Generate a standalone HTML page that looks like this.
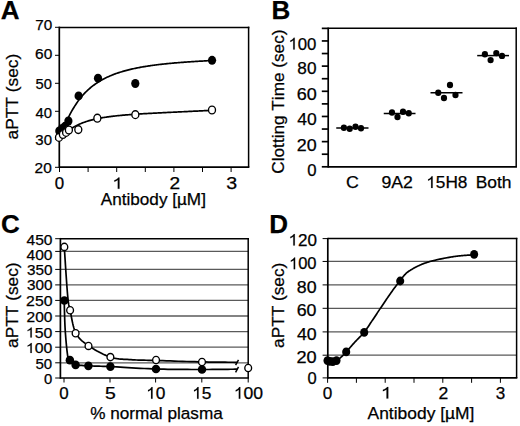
<!DOCTYPE html>
<html><head><meta charset="utf-8"><style>
html,body{margin:0;padding:0;background:#fff;}
body{width:520px;height:426px;overflow:hidden;}
svg{display:block;font-family:"Liberation Sans", sans-serif;font-kerning:none;}
text{stroke:#000;stroke-width:0.25px;}
</style></head><body>
<svg width="520" height="426" viewBox="0 0 520 426">
<rect width="520" height="426" fill="#fff"/>
<text x="0.85" y="19.4" font-size="26" font-weight="bold" textLength="18.78" lengthAdjust="spacingAndGlyphs" fill="#000">A</text>
<line x1="55" y1="27.3" x2="59.3" y2="27.3" stroke="#000" stroke-width="1" stroke-linecap="butt"/>
<line x1="55" y1="55.3" x2="59.3" y2="55.3" stroke="#000" stroke-width="1" stroke-linecap="butt"/>
<line x1="55" y1="83.3" x2="59.3" y2="83.3" stroke="#000" stroke-width="1" stroke-linecap="butt"/>
<line x1="55" y1="111.3" x2="59.3" y2="111.3" stroke="#000" stroke-width="1" stroke-linecap="butt"/>
<line x1="55" y1="139.3" x2="59.3" y2="139.3" stroke="#000" stroke-width="1" stroke-linecap="butt"/>
<line x1="55" y1="167.3" x2="59.3" y2="167.3" stroke="#000" stroke-width="1" stroke-linecap="butt"/>
<text x="35.32" y="30.4" font-size="14.9" textLength="16.98" lengthAdjust="spacingAndGlyphs" fill="#000">70</text>
<text x="35.12" y="59.1" font-size="14.9" textLength="17.19" lengthAdjust="spacingAndGlyphs" fill="#000">60</text>
<text x="35.61" y="88.9" font-size="14.9" textLength="16.36" lengthAdjust="spacingAndGlyphs" fill="#000">50</text>
<text x="35.46" y="117.8" font-size="14.9" textLength="16.52" lengthAdjust="spacingAndGlyphs" fill="#000">40</text>
<text x="35.33" y="145.2" font-size="14.9" textLength="16.66" lengthAdjust="spacingAndGlyphs" fill="#000">30</text>
<text x="34.62" y="173.1" font-size="14.9" textLength="17.18" lengthAdjust="spacingAndGlyphs" fill="#000">20</text>
<line x1="59.5" y1="167.2" x2="59.5" y2="172" stroke="#000" stroke-width="1" stroke-linecap="butt"/>
<line x1="88.1" y1="167.2" x2="88.1" y2="172" stroke="#000" stroke-width="1" stroke-linecap="butt"/>
<line x1="116.7" y1="167.2" x2="116.7" y2="172" stroke="#000" stroke-width="1" stroke-linecap="butt"/>
<line x1="145.3" y1="167.2" x2="145.3" y2="172" stroke="#000" stroke-width="1" stroke-linecap="butt"/>
<line x1="173.9" y1="167.2" x2="173.9" y2="172" stroke="#000" stroke-width="1" stroke-linecap="butt"/>
<line x1="202.5" y1="167.2" x2="202.5" y2="172" stroke="#000" stroke-width="1" stroke-linecap="butt"/>
<line x1="231.1" y1="167.2" x2="231.1" y2="172" stroke="#000" stroke-width="1" stroke-linecap="butt"/>
<text x="54.74" y="188.8" font-size="15.7" textLength="9.42" lengthAdjust="spacingAndGlyphs" fill="#000">0</text>
<text x="112.15" y="188.8" font-size="15.7" textLength="10.97" lengthAdjust="spacingAndGlyphs" fill="#000"> </text>
<path transform="translate(112.15,188.8) scale(0.00963,-0.00767)" d="M763,0H583V1147Q518,1085 412.5,1023T223,930V1104Q374,1175 487,1276T647,1472H763Z" fill="#000" stroke="#000" stroke-width="15.7"/>
<text x="169.54" y="188.8" font-size="15.7" textLength="10.62" lengthAdjust="spacingAndGlyphs" fill="#000">2</text>
<text x="226.15" y="188.8" font-size="15.7" textLength="10.91" lengthAdjust="spacingAndGlyphs" fill="#000">3</text>
<text x="100.77" y="205.3" font-size="16.8" textLength="105.16" lengthAdjust="spacingAndGlyphs" fill="#000">Antibody [µM]</text>
<text transform="translate(18.2,96.8) rotate(-90)" x="-42.64" y="0" font-size="17.2" textLength="85.61" lengthAdjust="spacingAndGlyphs" fill="#000">aPTT (sec)</text>
<line x1="59.3" y1="27.4" x2="249.35" y2="27.4" stroke="#000" stroke-width="1.5" stroke-linecap="butt"/>
<line x1="248.6" y1="26.65" x2="248.6" y2="167.2" stroke="#000" stroke-width="1.5" stroke-linecap="butt"/>
<line x1="59.3" y1="26.65" x2="59.3" y2="168.05" stroke="#000" stroke-width="1.7" stroke-linecap="butt"/>
<line x1="59.3" y1="167.2" x2="249.35" y2="167.2" stroke="#000" stroke-width="1.7" stroke-linecap="butt"/>
<path d="M59.5,130.37 L60.46,129.85 L61.42,129.47 L62.38,128.53 L63.34,127.14 L64.3,125.47 L65.25,123.65 L66.21,121.75 L67.17,119.83 L68.13,117.92 L69.09,116.04 L70.05,114.2 L71.01,112.42 L71.97,110.7 L72.93,109.04 L73.89,107.44 L74.85,105.9 L75.81,104.42 L76.76,103 L77.72,101.63 L78.68,100.32 L79.64,99.06 L80.6,97.85 L81.56,96.68 L82.52,95.56 L83.48,94.48 L84.44,93.45 L85.4,92.45 L86.36,91.49 L87.31,90.57 L88.27,89.68 L89.23,88.82 L90.19,87.99 L91.15,87.19 L92.11,86.43 L93.07,85.68 L94.03,84.97 L94.99,84.27 L95.95,83.6 L96.91,82.96 L97.86,82.33 L98.82,81.73 L99.78,81.14 L100.74,80.58 L101.7,80.03 L102.66,79.5 L103.62,78.99 L104.58,78.49 L105.54,78.01 L106.5,77.54 L107.46,77.09 L108.42,76.65 L109.37,76.22 L110.33,75.81 L111.29,75.41 L112.25,75.02 L113.21,74.64 L114.17,74.28 L115.13,73.92 L116.09,73.57 L117.05,73.24 L118.01,72.91 L118.97,72.59 L119.92,72.28 L120.88,71.98 L121.84,71.69 L122.8,71.4 L123.76,71.13 L124.72,70.86 L125.68,70.59 L126.64,70.34 L127.6,70.09 L128.56,69.85 L129.52,69.61 L130.47,69.38 L131.43,69.16 L132.39,68.94 L133.35,68.73 L134.31,68.52 L135.27,68.31 L136.23,68.12 L137.19,67.92 L138.15,67.74 L139.11,67.55 L140.07,67.37 L141.03,67.2 L141.98,67.03 L142.94,66.86 L143.9,66.7 L144.86,66.54 L145.82,66.38 L146.78,66.23 L147.74,66.08 L148.7,65.94 L149.66,65.79 L150.62,65.65 L151.58,65.52 L152.53,65.39 L153.49,65.25 L154.45,65.13 L155.41,65 L156.37,64.88 L157.33,64.76 L158.29,64.64 L159.25,64.53 L160.21,64.42 L161.17,64.31 L162.13,64.2 L163.08,64.09 L164.04,63.99 L165,63.89 L165.96,63.79 L166.92,63.69 L167.88,63.6 L168.84,63.5 L169.8,63.41 L170.76,63.32 L171.72,63.23 L172.68,63.14 L173.64,63.06 L174.59,62.97 L175.55,62.89 L176.51,62.81 L177.47,62.73 L178.43,62.65 L179.39,62.58 L180.35,62.5 L181.31,62.42 L182.27,62.35 L183.23,62.28 L184.19,62.21 L185.14,62.14 L186.1,62.07 L187.06,62 L188.02,61.93 L188.98,61.87 L189.94,61.8 L190.9,61.74 L191.86,61.68 L192.82,61.61 L193.78,61.55 L194.74,61.49 L195.69,61.43 L196.65,61.37 L197.61,61.31 L198.57,61.26 L199.53,61.2 L200.49,61.14 L201.45,61.09 L202.41,61.03 L203.37,60.98 L204.33,60.92 L205.29,60.87 L206.25,60.82 L207.2,60.77 L208.16,60.71 L209.12,60.66 L210.08,60.61 L211.04,60.56 L212,60.51" fill="none" stroke="#000" stroke-width="1.7" stroke-linejoin="round" stroke-linecap="round"/>
<path d="M59.5,136.89 L60.46,136.45 L61.42,135.86 L62.38,135.18 L63.34,134.46 L64.3,133.71 L65.25,132.96 L66.21,132.21 L67.17,131.48 L68.13,130.77 L69.09,130.08 L70.05,129.41 L71.01,128.77 L71.97,128.16 L72.93,127.57 L73.89,127 L74.85,126.46 L75.81,125.94 L76.76,125.45 L77.72,124.97 L78.68,124.52 L79.64,124.09 L80.6,123.67 L81.56,123.27 L82.52,122.9 L83.48,122.53 L84.44,122.18 L85.4,121.85 L86.36,121.53 L87.31,121.22 L88.27,120.93 L89.23,120.65 L90.19,120.38 L91.15,120.12 L92.11,119.87 L93.07,119.63 L94.03,119.4 L94.99,119.18 L95.95,118.97 L96.91,118.76 L97.86,118.56 L98.82,118.37 L99.78,118.19 L100.74,118.01 L101.7,117.84 L102.66,117.68 L103.62,117.52 L104.58,117.37 L105.54,117.22 L106.5,117.07 L107.46,116.94 L108.42,116.8 L109.37,116.67 L110.33,116.55 L111.29,116.42 L112.25,116.31 L113.21,116.19 L114.17,116.08 L115.13,115.97 L116.09,115.87 L117.05,115.77 L118.01,115.67 L118.97,115.57 L119.92,115.48 L120.88,115.39 L121.84,115.3 L122.8,115.21 L123.76,115.13 L124.72,115.04 L125.68,114.96 L126.64,114.88 L127.6,114.81 L128.56,114.73 L129.52,114.66 L130.47,114.59 L131.43,114.52 L132.39,114.45 L133.35,114.38 L134.31,114.31 L135.27,114.25 L136.23,114.18 L137.19,114.12 L138.15,114.06 L139.11,114 L140.07,113.94 L141.03,113.88 L141.98,113.82 L142.94,113.76 L143.9,113.71 L144.86,113.65 L145.82,113.59 L146.78,113.54 L147.74,113.49 L148.7,113.43 L149.66,113.38 L150.62,113.33 L151.58,113.28 L152.53,113.23 L153.49,113.18 L154.45,113.13 L155.41,113.08 L156.37,113.03 L157.33,112.98 L158.29,112.93 L159.25,112.88 L160.21,112.83 L161.17,112.79 L162.13,112.74 L163.08,112.69 L164.04,112.64 L165,112.6 L165.96,112.55 L166.92,112.5 L167.88,112.46 L168.84,112.41 L169.8,112.37 L170.76,112.32 L171.72,112.27 L172.68,112.23 L173.64,112.18 L174.59,112.14 L175.55,112.09 L176.51,112.05 L177.47,112 L178.43,111.96 L179.39,111.91 L180.35,111.86 L181.31,111.82 L182.27,111.77 L183.23,111.73 L184.19,111.68 L185.14,111.64 L186.1,111.59 L187.06,111.54 L188.02,111.5 L188.98,111.45 L189.94,111.41 L190.9,111.36 L191.86,111.31 L192.82,111.27 L193.78,111.22 L194.74,111.17 L195.69,111.13 L196.65,111.08 L197.61,111.03 L198.57,110.99 L199.53,110.94 L200.49,110.89 L201.45,110.84 L202.41,110.8 L203.37,110.75 L204.33,110.7 L205.29,110.65 L206.25,110.6 L207.2,110.56 L208.16,110.51 L209.12,110.46 L210.08,110.41 L211.04,110.36 L212,110.31" fill="none" stroke="#000" stroke-width="1.7" stroke-linejoin="round" stroke-linecap="round"/>
<ellipse cx="59.3" cy="131" rx="4.1" ry="4.45" fill="#000"/>
<ellipse cx="62.2" cy="128.5" rx="4.1" ry="4.45" fill="#000"/>
<ellipse cx="65" cy="126.3" rx="4.1" ry="4.45" fill="#000"/>
<ellipse cx="68.4" cy="121" rx="4.1" ry="4.45" fill="#000"/>
<ellipse cx="78.6" cy="95.9" rx="4.1" ry="4.45" fill="#000"/>
<ellipse cx="98" cy="78.2" rx="4.1" ry="4.45" fill="#000"/>
<ellipse cx="135.3" cy="83.5" rx="4.1" ry="4.45" fill="#000"/>
<ellipse cx="212.05" cy="60.3" rx="4.1" ry="4.45" fill="#000"/>
<ellipse cx="59" cy="137.4" rx="3.5" ry="3.9" fill="#fff" stroke="#000" stroke-width="1.35"/>
<ellipse cx="62.9" cy="134.5" rx="3.5" ry="3.9" fill="#fff" stroke="#000" stroke-width="1.35"/>
<ellipse cx="66.1" cy="132.4" rx="3.5" ry="3.9" fill="#fff" stroke="#000" stroke-width="1.35"/>
<ellipse cx="68.9" cy="130" rx="3.5" ry="3.9" fill="#fff" stroke="#000" stroke-width="1.35"/>
<ellipse cx="78.3" cy="129.6" rx="3.5" ry="3.9" fill="#fff" stroke="#000" stroke-width="1.35"/>
<ellipse cx="97.35" cy="118.2" rx="3.5" ry="3.9" fill="#fff" stroke="#000" stroke-width="1.35"/>
<ellipse cx="135.35" cy="114.65" rx="3.5" ry="3.9" fill="#fff" stroke="#000" stroke-width="1.35"/>
<ellipse cx="212" cy="110" rx="3.5" ry="3.9" fill="#fff" stroke="#000" stroke-width="1.35"/>
<text x="271.46" y="19.4" font-size="26" font-weight="bold" textLength="18.78" lengthAdjust="spacingAndGlyphs" fill="#000">B</text>
<line x1="321.8" y1="166.8" x2="328.2" y2="166.8" stroke="#000" stroke-width="1.7" stroke-linecap="butt"/>
<line x1="321.8" y1="154.22" x2="328.2" y2="154.22" stroke="#000" stroke-width="1.7" stroke-linecap="butt"/>
<line x1="321.8" y1="141.63" x2="328.2" y2="141.63" stroke="#000" stroke-width="1.7" stroke-linecap="butt"/>
<line x1="321.8" y1="129.05" x2="328.2" y2="129.05" stroke="#000" stroke-width="1.7" stroke-linecap="butt"/>
<line x1="321.8" y1="116.46" x2="328.2" y2="116.46" stroke="#000" stroke-width="1.7" stroke-linecap="butt"/>
<line x1="321.8" y1="103.88" x2="328.2" y2="103.88" stroke="#000" stroke-width="1.7" stroke-linecap="butt"/>
<line x1="321.8" y1="91.29" x2="328.2" y2="91.29" stroke="#000" stroke-width="1.7" stroke-linecap="butt"/>
<line x1="321.8" y1="78.71" x2="328.2" y2="78.71" stroke="#000" stroke-width="1.7" stroke-linecap="butt"/>
<line x1="321.8" y1="66.12" x2="328.2" y2="66.12" stroke="#000" stroke-width="1.7" stroke-linecap="butt"/>
<line x1="321.8" y1="53.54" x2="328.2" y2="53.54" stroke="#000" stroke-width="1.7" stroke-linecap="butt"/>
<line x1="321.8" y1="40.95" x2="328.2" y2="40.95" stroke="#000" stroke-width="1.7" stroke-linecap="butt"/>
<line x1="321.8" y1="28.37" x2="328.2" y2="28.37" stroke="#000" stroke-width="1.7" stroke-linecap="butt"/>
<text x="288.47" y="49.5" font-size="16.5" textLength="27.98" lengthAdjust="spacingAndGlyphs" fill="#000"> 00</text>
<path transform="translate(288.47,49.5) scale(0.00819,-0.00806)" d="M763,0H583V1147Q518,1085 412.5,1023T223,930V1104Q374,1175 487,1276T647,1472H763Z" fill="#000" stroke="#000" stroke-width="14.9"/>
<text x="297.35" y="74.4" font-size="16.5" textLength="19.12" lengthAdjust="spacingAndGlyphs" fill="#000">80</text>
<text x="296.69" y="100.4" font-size="16.5" textLength="20.02" lengthAdjust="spacingAndGlyphs" fill="#000">60</text>
<text x="297.2" y="125.3" font-size="16.5" textLength="19.49" lengthAdjust="spacingAndGlyphs" fill="#000">40</text>
<text x="296.8" y="150.6" font-size="16.5" textLength="19.9" lengthAdjust="spacingAndGlyphs" fill="#000">20</text>
<text x="307.35" y="175.8" font-size="16.5" textLength="9.31" lengthAdjust="spacingAndGlyphs" fill="#000">0</text>
<text transform="translate(284,101.7) rotate(-90)" x="-71.97" y="0" font-size="17.2" textLength="144.14" lengthAdjust="spacingAndGlyphs" fill="#000">Clotting Time (sec)</text>
<line x1="328.2" y1="28.3" x2="516.95" y2="28.3" stroke="#000" stroke-width="1.5" stroke-linecap="butt"/>
<line x1="516.2" y1="27.55" x2="516.2" y2="166.8" stroke="#000" stroke-width="1.5" stroke-linecap="butt"/>
<line x1="328.2" y1="27.55" x2="328.2" y2="167.65" stroke="#000" stroke-width="1.7" stroke-linecap="butt"/>
<line x1="328.2" y1="166.8" x2="516.95" y2="166.8" stroke="#000" stroke-width="1.7" stroke-linecap="butt"/>
<line x1="336.25" y1="128" x2="368.5" y2="128" stroke="#000" stroke-width="1.5" stroke-linecap="butt"/>
<ellipse cx="343.9" cy="127.8" rx="3.1" ry="3.2" fill="#000"/>
<ellipse cx="349.7" cy="128.75" rx="3.1" ry="3.2" fill="#000"/>
<ellipse cx="355.5" cy="126.8" rx="3.1" ry="3.2" fill="#000"/>
<ellipse cx="361" cy="128.3" rx="3.1" ry="3.2" fill="#000"/>
<line x1="383.75" y1="113.5" x2="415.5" y2="113.5" stroke="#000" stroke-width="1.5" stroke-linecap="butt"/>
<ellipse cx="392" cy="112.5" rx="3.1" ry="3.2" fill="#000"/>
<ellipse cx="397.5" cy="117" rx="3.1" ry="3.2" fill="#000"/>
<ellipse cx="403" cy="111.75" rx="3.1" ry="3.2" fill="#000"/>
<ellipse cx="408.75" cy="113.25" rx="3.1" ry="3.2" fill="#000"/>
<line x1="430.5" y1="92.75" x2="462.5" y2="92.75" stroke="#000" stroke-width="1.5" stroke-linecap="butt"/>
<ellipse cx="438.25" cy="92.75" rx="3.1" ry="3.2" fill="#000"/>
<ellipse cx="444" cy="98" rx="3.1" ry="3.2" fill="#000"/>
<ellipse cx="450" cy="85" rx="3.1" ry="3.2" fill="#000"/>
<ellipse cx="455.5" cy="95" rx="3.1" ry="3.2" fill="#000"/>
<line x1="477.2" y1="55.6" x2="509" y2="55.6" stroke="#000" stroke-width="1.5" stroke-linecap="butt"/>
<ellipse cx="484.9" cy="54.2" rx="3.1" ry="3.2" fill="#000"/>
<ellipse cx="490.6" cy="60.1" rx="3.1" ry="3.2" fill="#000"/>
<ellipse cx="496.3" cy="53.1" rx="3.1" ry="3.2" fill="#000"/>
<ellipse cx="502" cy="55.9" rx="3.1" ry="3.2" fill="#000"/>
<text x="345.99" y="188.1" font-size="16.4" textLength="12.89" lengthAdjust="spacingAndGlyphs" fill="#000">C</text>
<text x="381.47" y="188.1" font-size="16.4" textLength="31.42" lengthAdjust="spacingAndGlyphs" fill="#000">9A2</text>
<text x="426.22" y="188.1" font-size="16.4" textLength="41.23" lengthAdjust="spacingAndGlyphs" fill="#000"> 5H8</text>
<path transform="translate(426.22,188.1) scale(0.00842,-0.00801)" d="M763,0H583V1147Q518,1085 412.5,1023T223,930V1104Q374,1175 487,1276T647,1472H763Z" fill="#000" stroke="#000" stroke-width="15.0"/>
<text x="475.67" y="188.1" font-size="16.4" textLength="35.86" lengthAdjust="spacingAndGlyphs" fill="#000">Both</text>
<text x="1.03" y="233" font-size="26" font-weight="bold" textLength="18.78" lengthAdjust="spacingAndGlyphs" fill="#000">C</text>
<line x1="60.4" y1="251.4" x2="248.2" y2="251.4" stroke="#5a5a5a" stroke-width="1.3" stroke-linecap="butt"/>
<line x1="60.4" y1="269.4" x2="248.2" y2="269.4" stroke="#5a5a5a" stroke-width="1.3" stroke-linecap="butt"/>
<line x1="60.4" y1="284.9" x2="248.2" y2="284.9" stroke="#5a5a5a" stroke-width="1.3" stroke-linecap="butt"/>
<line x1="60.4" y1="300.4" x2="248.2" y2="300.4" stroke="#5a5a5a" stroke-width="1.3" stroke-linecap="butt"/>
<line x1="60.4" y1="316" x2="248.2" y2="316" stroke="#5a5a5a" stroke-width="1.3" stroke-linecap="butt"/>
<line x1="60.4" y1="331.6" x2="248.2" y2="331.6" stroke="#5a5a5a" stroke-width="1.3" stroke-linecap="butt"/>
<line x1="60.4" y1="347.2" x2="248.2" y2="347.2" stroke="#5a5a5a" stroke-width="1.3" stroke-linecap="butt"/>
<line x1="60.4" y1="362.8" x2="248.2" y2="362.8" stroke="#5a5a5a" stroke-width="1.3" stroke-linecap="butt"/>
<line x1="55.2" y1="251.4" x2="60.4" y2="251.4" stroke="#000" stroke-width="1" stroke-linecap="butt"/>
<line x1="55.2" y1="269.4" x2="60.4" y2="269.4" stroke="#000" stroke-width="1" stroke-linecap="butt"/>
<line x1="55.2" y1="284.9" x2="60.4" y2="284.9" stroke="#000" stroke-width="1" stroke-linecap="butt"/>
<line x1="55.2" y1="300.4" x2="60.4" y2="300.4" stroke="#000" stroke-width="1" stroke-linecap="butt"/>
<line x1="55.2" y1="316" x2="60.4" y2="316" stroke="#000" stroke-width="1" stroke-linecap="butt"/>
<line x1="55.2" y1="331.6" x2="60.4" y2="331.6" stroke="#000" stroke-width="1" stroke-linecap="butt"/>
<line x1="55.2" y1="347.2" x2="60.4" y2="347.2" stroke="#000" stroke-width="1" stroke-linecap="butt"/>
<line x1="55.2" y1="362.8" x2="60.4" y2="362.8" stroke="#000" stroke-width="1" stroke-linecap="butt"/>
<line x1="55.2" y1="238.7" x2="60.4" y2="238.7" stroke="#000" stroke-width="1" stroke-linecap="butt"/>
<line x1="55.2" y1="378" x2="60.4" y2="378" stroke="#000" stroke-width="1" stroke-linecap="butt"/>
<text x="26.54" y="244.8" font-size="14" textLength="25.97" lengthAdjust="spacingAndGlyphs" fill="#000">450</text>
<text x="26.54" y="260" font-size="14" textLength="25.97" lengthAdjust="spacingAndGlyphs" fill="#000">400</text>
<text x="27.02" y="274.8" font-size="14" textLength="25.48" lengthAdjust="spacingAndGlyphs" fill="#000">350</text>
<text x="27.02" y="289.5" font-size="14" textLength="25.48" lengthAdjust="spacingAndGlyphs" fill="#000">300</text>
<text x="26.1" y="306.3" font-size="14" textLength="26.41" lengthAdjust="spacingAndGlyphs" fill="#000">250</text>
<text x="26.62" y="322.1" font-size="14" textLength="25.89" lengthAdjust="spacingAndGlyphs" fill="#000">200</text>
<text x="25.87" y="337.6" font-size="14" textLength="26.44" lengthAdjust="spacingAndGlyphs" fill="#000"> 50</text>
<path transform="translate(25.87,337.6) scale(0.00774,-0.00684)" d="M763,0H583V1147Q518,1085 412.5,1023T223,930V1104Q374,1175 487,1276T647,1472H763Z" fill="#000" stroke="#000" stroke-width="17.6"/>
<text x="25.88" y="353" font-size="14" textLength="26.34" lengthAdjust="spacingAndGlyphs" fill="#000"> 00</text>
<path transform="translate(25.88,353) scale(0.00771,-0.00684)" d="M763,0H583V1147Q518,1085 412.5,1023T223,930V1104Q374,1175 487,1276T647,1472H763Z" fill="#000" stroke="#000" stroke-width="17.6"/>
<text x="35.5" y="368.8" font-size="14" textLength="16.69" lengthAdjust="spacingAndGlyphs" fill="#000">50</text>
<text x="43.92" y="384.3" font-size="14" textLength="8.26" lengthAdjust="spacingAndGlyphs" fill="#000">0</text>
<line x1="64" y1="378" x2="64" y2="382.5" stroke="#000" stroke-width="1" stroke-linecap="butt"/>
<text x="59.24" y="398.75" font-size="16.2" textLength="9.42" lengthAdjust="spacingAndGlyphs" fill="#000">0</text>
<line x1="110" y1="378" x2="110" y2="382.5" stroke="#000" stroke-width="1" stroke-linecap="butt"/>
<text x="105.02" y="398.75" font-size="16.2" textLength="10.79" lengthAdjust="spacingAndGlyphs" fill="#000">5</text>
<line x1="155.6" y1="378" x2="155.6" y2="382.5" stroke="#000" stroke-width="1" stroke-linecap="butt"/>
<text x="146.11" y="398.75" font-size="16.2" textLength="19.26" lengthAdjust="spacingAndGlyphs" fill="#000"> 0</text>
<path transform="translate(146.11,398.75) scale(0.00846,-0.00791)" d="M763,0H583V1147Q518,1085 412.5,1023T223,930V1104Q374,1175 487,1276T647,1472H763Z" fill="#000" stroke="#000" stroke-width="15.2"/>
<line x1="201.8" y1="378" x2="201.8" y2="382.5" stroke="#000" stroke-width="1" stroke-linecap="butt"/>
<text x="192.11" y="398.75" font-size="16.2" textLength="19.32" lengthAdjust="spacingAndGlyphs" fill="#000"> 5</text>
<path transform="translate(192.11,398.75) scale(0.00848,-0.00791)" d="M763,0H583V1147Q518,1085 412.5,1023T223,930V1104Q374,1175 487,1276T647,1472H763Z" fill="#000" stroke="#000" stroke-width="15.2"/>
<line x1="248.2" y1="378" x2="248.2" y2="382.5" stroke="#000" stroke-width="1" stroke-linecap="butt"/>
<text x="233.79" y="398.75" font-size="16.2" textLength="29.3" lengthAdjust="spacingAndGlyphs" fill="#000"> 00</text>
<path transform="translate(233.79,398.75) scale(0.00857,-0.00791)" d="M763,0H583V1147Q518,1085 412.5,1023T223,930V1104Q374,1175 487,1276T647,1472H763Z" fill="#000" stroke="#000" stroke-width="15.2"/>
<text x="90.19" y="418.8" font-size="17.2" textLength="132.61" lengthAdjust="spacingAndGlyphs" fill="#000">% normal plasma</text>
<text transform="translate(18.3,305.35) rotate(-90)" x="-42.58" y="0" font-size="17.2" textLength="85.51" lengthAdjust="spacingAndGlyphs" fill="#000">aPTT (sec)</text>
<line x1="60.4" y1="238.7" x2="248.95" y2="238.7" stroke="#000" stroke-width="1.5" stroke-linecap="butt"/>
<line x1="248.2" y1="237.95" x2="248.2" y2="378" stroke="#000" stroke-width="1.5" stroke-linecap="butt"/>
<line x1="60.4" y1="237.95" x2="60.4" y2="378.85" stroke="#000" stroke-width="1.7" stroke-linecap="butt"/>
<line x1="60.4" y1="378" x2="248.95" y2="378" stroke="#000" stroke-width="1.7" stroke-linecap="butt"/>
<path d="M64.2,300.5 L64.24,301.94 L64.29,303.75 L64.34,305.88 L64.4,308.28 L64.47,310.88 L64.54,313.62 L64.63,316.46 L64.72,319.33 L64.82,322.18 L64.93,324.94 L65.06,327.57 L65.2,330 L65.36,332.36 L65.53,334.78 L65.72,337.25 L65.93,339.72 L66.14,342.17 L66.36,344.56 L66.59,346.86 L66.82,349.05 L67.05,351.09 L67.27,352.95 L67.49,354.59 L67.7,356 L67.89,357.13 L68.07,358.01 L68.23,358.67 L68.39,359.14 L68.55,359.46 L68.71,359.68 L68.89,359.81 L69.07,359.9 L69.28,359.99 L69.52,360.12 L69.79,360.31 L70.1,360.6 L70.43,360.96 L70.75,361.33 L71.09,361.71 L71.43,362.08 L71.8,362.45 L72.2,362.81 L72.63,363.16 L73.11,363.5 L73.64,363.81 L74.22,364.1 L74.88,364.37 L75.6,364.6 L76.38,364.8 L77.2,364.97 L78.07,365.11 L78.99,365.22 L79.95,365.32 L80.97,365.4 L82.04,365.47 L83.18,365.53 L84.38,365.59 L85.65,365.66 L86.99,365.72 L88.4,365.8 L89.84,365.88 L91.26,365.94 L92.7,365.99 L94.17,366.04 L95.71,366.08 L97.34,366.12 L99.08,366.17 L100.96,366.23 L103.01,366.3 L105.25,366.38 L107.7,366.48 L110.4,366.6 L113.38,366.75 L116.66,366.93 L120.18,367.13 L123.9,367.35 L127.8,367.58 L131.81,367.82 L135.91,368.05 L140.05,368.28 L144.19,368.5 L148.29,368.69 L152.31,368.86 L156.2,369 L160.05,369.11 L163.96,369.2 L167.91,369.28 L171.88,369.34 L175.85,369.38 L179.8,369.42 L183.71,369.44 L187.56,369.46 L191.34,369.48 L195.01,369.48 L198.58,369.49 L202,369.5 L205.39,369.5 L208.82,369.49 L212.25,369.47 L215.64,369.45 L218.96,369.42 L222.16,369.38 L225.2,369.34 L228.04,369.31 L230.65,369.27 L232.97,369.24 L234.96,369.22 L236.6,369.2" fill="none" stroke="#000" stroke-width="1.7" stroke-linejoin="round" stroke-linecap="round"/>
<path d="M64.3,247.3 L64.46,249.71 L64.67,252.86 L64.91,256.63 L65.19,260.87 L65.48,265.43 L65.79,270.19 L66.11,275.01 L66.44,279.73 L66.75,284.24 L67.06,288.37 L67.34,292.01 L67.6,295 L67.83,297.39 L68.02,299.34 L68.2,300.93 L68.37,302.22 L68.53,303.29 L68.69,304.21 L68.86,305.03 L69.05,305.84 L69.26,306.71 L69.5,307.69 L69.78,308.87 L70.1,310.3 L70.45,311.97 L70.8,313.78 L71.16,315.71 L71.54,317.72 L71.94,319.78 L72.37,321.87 L72.83,323.94 L73.34,325.98 L73.89,327.94 L74.5,329.8 L75.17,331.53 L75.9,333.1 L76.68,334.51 L77.5,335.8 L78.35,337 L79.25,338.1 L80.2,339.13 L81.19,340.11 L82.25,341.05 L83.36,341.97 L84.54,342.87 L85.78,343.79 L87.1,344.72 L88.5,345.7 L90,346.72 L91.63,347.77 L93.35,348.84 L95.16,349.91 L97.03,350.98 L98.95,352.02 L100.9,353.03 L102.85,354 L104.8,354.9 L106.72,355.72 L108.59,356.46 L110.4,357.1 L112.15,357.63 L113.86,358.06 L115.53,358.41 L117.19,358.69 L118.84,358.9 L120.49,359.06 L122.16,359.19 L123.84,359.29 L125.56,359.38 L127.32,359.47 L129.13,359.57 L131,359.7 L132.87,359.83 L134.7,359.93 L136.49,360.01 L138.3,360.08 L140.13,360.13 L142.02,360.17 L144.01,360.22 L146.1,360.26 L148.34,360.3 L150.75,360.35 L153.36,360.42 L156.2,360.5 L159.33,360.6 L162.77,360.71 L166.46,360.83 L170.36,360.96 L174.39,361.09 L178.51,361.23 L182.67,361.36 L186.8,361.49 L190.85,361.61 L194.78,361.72 L198.51,361.82 L202,361.9 L205.39,361.97 L208.82,362.03 L212.25,362.08 L215.64,362.12 L218.96,362.16 L222.16,362.19 L225.2,362.21 L228.04,362.23 L230.65,362.25 L232.97,362.27 L234.96,362.28 L236.6,362.3" fill="none" stroke="#000" stroke-width="1.7" stroke-linejoin="round" stroke-linecap="round"/>
<line x1="235.6" y1="365.1" x2="238.5" y2="359.9" stroke="#000" stroke-width="1.5" stroke-linecap="butt"/>
<line x1="235.6" y1="372.4" x2="238.5" y2="366.9" stroke="#000" stroke-width="1.5" stroke-linecap="butt"/>
<ellipse cx="64.35" cy="300.5" rx="4.25" ry="4.35" fill="#000"/>
<ellipse cx="69.9" cy="360.2" rx="4.25" ry="4.35" fill="#000"/>
<ellipse cx="75.6" cy="364.8" rx="4.25" ry="4.35" fill="#000"/>
<ellipse cx="88.4" cy="365.8" rx="4.25" ry="4.35" fill="#000"/>
<ellipse cx="110.4" cy="366.6" rx="4.25" ry="4.35" fill="#000"/>
<ellipse cx="156" cy="369" rx="4.25" ry="4.35" fill="#000"/>
<ellipse cx="202" cy="369.5" rx="4.25" ry="4.35" fill="#000"/>
<ellipse cx="64.35" cy="246.9" rx="3.4" ry="3.6" fill="#fff" stroke="#000" stroke-width="1.35"/>
<ellipse cx="70.1" cy="310.3" rx="3.4" ry="3.6" fill="#fff" stroke="#000" stroke-width="1.35"/>
<ellipse cx="75.6" cy="333.2" rx="3.4" ry="3.6" fill="#fff" stroke="#000" stroke-width="1.35"/>
<ellipse cx="88.5" cy="345.9" rx="3.4" ry="3.6" fill="#fff" stroke="#000" stroke-width="1.35"/>
<ellipse cx="110.4" cy="357.1" rx="3.4" ry="3.6" fill="#fff" stroke="#000" stroke-width="1.35"/>
<ellipse cx="156.05" cy="360.05" rx="3.4" ry="3.6" fill="#fff" stroke="#000" stroke-width="1.35"/>
<ellipse cx="202" cy="362" rx="3.4" ry="3.6" fill="#fff" stroke="#000" stroke-width="1.35"/>
<ellipse cx="248.2" cy="368" rx="3.4" ry="3.6" fill="#fff" stroke="#000" stroke-width="1.35"/>
<text x="269.26" y="232.5" font-size="26" font-weight="bold" textLength="18.78" lengthAdjust="spacingAndGlyphs" fill="#000">D</text>
<line x1="327.8" y1="355.2" x2="516.6" y2="355.2" stroke="#585858" stroke-width="1.3" stroke-linecap="butt"/>
<line x1="327.8" y1="331.9" x2="516.6" y2="331.9" stroke="#585858" stroke-width="1.3" stroke-linecap="butt"/>
<line x1="327.8" y1="308.3" x2="516.6" y2="308.3" stroke="#585858" stroke-width="1.3" stroke-linecap="butt"/>
<line x1="327.8" y1="284.9" x2="516.6" y2="284.9" stroke="#585858" stroke-width="1.3" stroke-linecap="butt"/>
<line x1="327.8" y1="261.45" x2="516.6" y2="261.45" stroke="#585858" stroke-width="1.3" stroke-linecap="butt"/>
<line x1="322.6" y1="377.9" x2="327.8" y2="377.9" stroke="#000" stroke-width="1" stroke-linecap="butt"/>
<line x1="322.6" y1="355.2" x2="327.8" y2="355.2" stroke="#000" stroke-width="1" stroke-linecap="butt"/>
<line x1="322.6" y1="331.9" x2="327.8" y2="331.9" stroke="#000" stroke-width="1" stroke-linecap="butt"/>
<line x1="322.6" y1="308.3" x2="327.8" y2="308.3" stroke="#000" stroke-width="1" stroke-linecap="butt"/>
<line x1="322.6" y1="284.9" x2="327.8" y2="284.9" stroke="#000" stroke-width="1" stroke-linecap="butt"/>
<line x1="322.6" y1="261.45" x2="327.8" y2="261.45" stroke="#000" stroke-width="1" stroke-linecap="butt"/>
<line x1="322.6" y1="238.6" x2="327.8" y2="238.6" stroke="#000" stroke-width="1" stroke-linecap="butt"/>
<text x="288.45" y="245.6" font-size="16.2" textLength="28.42" lengthAdjust="spacingAndGlyphs" fill="#000"> 20</text>
<path transform="translate(288.45,245.6) scale(0.00832,-0.00791)" d="M763,0H583V1147Q518,1085 412.5,1023T223,930V1104Q374,1175 487,1276T647,1472H763Z" fill="#000" stroke="#000" stroke-width="15.2"/>
<text x="289" y="269.2" font-size="16.2" textLength="27.54" lengthAdjust="spacingAndGlyphs" fill="#000"> 00</text>
<path transform="translate(289,269.2) scale(0.00806,-0.00791)" d="M763,0H583V1147Q518,1085 412.5,1023T223,930V1104Q374,1175 487,1276T647,1472H763Z" fill="#000" stroke="#000" stroke-width="15.2"/>
<text x="296.83" y="292.9" font-size="16.2" textLength="19.77" lengthAdjust="spacingAndGlyphs" fill="#000">80</text>
<text x="296.7" y="315.6" font-size="16.2" textLength="19.8" lengthAdjust="spacingAndGlyphs" fill="#000">60</text>
<text x="296.99" y="339.9" font-size="16.2" textLength="19.7" lengthAdjust="spacingAndGlyphs" fill="#000">40</text>
<text x="296.49" y="362.6" font-size="16.2" textLength="20.22" lengthAdjust="spacingAndGlyphs" fill="#000">20</text>
<text x="307.45" y="384.3" font-size="16.2" textLength="9.19" lengthAdjust="spacingAndGlyphs" fill="#000">0</text>
<line x1="327.6" y1="377.8" x2="327.6" y2="382.8" stroke="#000" stroke-width="1" stroke-linecap="butt"/>
<line x1="356.4" y1="377.8" x2="356.4" y2="382.8" stroke="#000" stroke-width="1" stroke-linecap="butt"/>
<line x1="385.2" y1="377.8" x2="385.2" y2="382.8" stroke="#000" stroke-width="1" stroke-linecap="butt"/>
<line x1="414" y1="377.8" x2="414" y2="382.8" stroke="#000" stroke-width="1" stroke-linecap="butt"/>
<line x1="442.8" y1="377.8" x2="442.8" y2="382.8" stroke="#000" stroke-width="1" stroke-linecap="butt"/>
<line x1="471.6" y1="377.8" x2="471.6" y2="382.8" stroke="#000" stroke-width="1" stroke-linecap="butt"/>
<line x1="500.4" y1="377.8" x2="500.4" y2="382.8" stroke="#000" stroke-width="1" stroke-linecap="butt"/>
<text x="322.73" y="398.6" font-size="16.3" textLength="9.54" lengthAdjust="spacingAndGlyphs" fill="#000">0</text>
<text x="380.67" y="398.6" font-size="16.3" textLength="11.39" lengthAdjust="spacingAndGlyphs" fill="#000"> </text>
<path transform="translate(380.67,398.6) scale(0.01000,-0.00796)" d="M763,0H583V1147Q518,1085 412.5,1023T223,930V1104Q374,1175 487,1276T647,1472H763Z" fill="#000" stroke="#000" stroke-width="15.1"/>
<text x="438.42" y="398.6" font-size="16.3" textLength="9.77" lengthAdjust="spacingAndGlyphs" fill="#000">2</text>
<text x="495.65" y="398.6" font-size="16.3" textLength="9.5" lengthAdjust="spacingAndGlyphs" fill="#000">3</text>
<text x="367.57" y="419" font-size="17" textLength="106.88" lengthAdjust="spacingAndGlyphs" fill="#000">Antibody [µM]</text>
<text transform="translate(283.8,305.5) rotate(-90)" x="-42.43" y="0" font-size="17.2" textLength="85.2" lengthAdjust="spacingAndGlyphs" fill="#000">aPTT (sec)</text>
<line x1="327.8" y1="238.6" x2="517.35" y2="238.6" stroke="#000" stroke-width="1.5" stroke-linecap="butt"/>
<line x1="516.6" y1="237.85" x2="516.6" y2="377.8" stroke="#000" stroke-width="1.5" stroke-linecap="butt"/>
<line x1="327.8" y1="237.85" x2="327.8" y2="378.65" stroke="#000" stroke-width="1.7" stroke-linecap="butt"/>
<line x1="327.8" y1="377.8" x2="517.35" y2="377.8" stroke="#000" stroke-width="1.7" stroke-linecap="butt"/>
<path d="M327.5,360.6 L327.77,360.63 L328.12,360.68 L328.52,360.74 L328.98,360.81 L329.48,360.88 L330,360.95 L330.54,361.02 L331.07,361.08 L331.6,361.13 L332.11,361.17 L332.58,361.2 L333,361.2 L333.39,361.19 L333.75,361.18 L334.11,361.15 L334.44,361.13 L334.77,361.09 L335.09,361.04 L335.41,360.97 L335.72,360.9 L336.04,360.8 L336.35,360.69 L336.67,360.56 L337,360.4 L337.33,360.22 L337.65,360.03 L337.97,359.82 L338.29,359.59 L338.61,359.34 L338.93,359.07 L339.25,358.8 L339.58,358.5 L339.92,358.2 L340.26,357.88 L340.62,357.54 L341,357.2 L341.38,356.85 L341.76,356.5 L342.14,356.14 L342.53,355.77 L342.92,355.39 L343.33,354.99 L343.75,354.57 L344.19,354.13 L344.65,353.65 L345.14,353.14 L345.65,352.59 L346.2,352 L346.78,351.36 L347.39,350.67 L348.02,349.95 L348.69,349.18 L349.37,348.39 L350.07,347.57 L350.79,346.73 L351.51,345.89 L352.25,345.03 L353,344.18 L353.75,343.33 L354.5,342.5 L355.27,341.67 L356.06,340.84 L356.87,340 L357.7,339.16 L358.54,338.32 L359.38,337.46 L360.22,336.6 L361.06,335.74 L361.88,334.86 L362.68,333.98 L363.45,333.1 L364.2,332.2 L364.92,331.3 L365.61,330.38 L366.28,329.46 L366.93,328.53 L367.57,327.6 L368.21,326.66 L368.83,325.71 L369.46,324.76 L370.08,323.8 L370.71,322.84 L371.35,321.87 L372,320.9 L372.66,319.92 L373.32,318.94 L373.99,317.94 L374.66,316.94 L375.32,315.93 L375.99,314.92 L376.66,313.91 L377.33,312.9 L378,311.9 L378.67,310.89 L379.34,309.89 L380,308.9 L380.66,307.91 L381.33,306.91 L382,305.91 L382.67,304.91 L383.34,303.91 L384.01,302.91 L384.68,301.93 L385.34,300.95 L385.99,299.98 L386.64,299.04 L387.27,298.11 L387.9,297.2 L388.52,296.31 L389.14,295.42 L389.75,294.55 L390.36,293.68 L390.97,292.83 L391.56,291.99 L392.15,291.17 L392.73,290.37 L393.29,289.59 L393.84,288.84 L394.38,288.11 L394.9,287.4 L395.41,286.72 L395.9,286.07 L396.38,285.45 L396.85,284.84 L397.3,284.26 L397.75,283.7 L398.18,283.15 L398.61,282.62 L399.02,282.1 L399.42,281.59 L399.82,281.09 L400.2,280.6 L400.57,280.12 L400.92,279.64 L401.26,279.19 L401.59,278.74 L401.9,278.31 L402.21,277.89 L402.51,277.48 L402.81,277.08 L403.11,276.7 L403.4,276.32 L403.7,275.95 L404,275.6 L404.3,275.26 L404.6,274.93 L404.89,274.62 L405.17,274.32 L405.46,274.03 L405.74,273.75 L406.03,273.48 L406.31,273.21 L406.6,272.96 L406.9,272.7 L407.2,272.45 L407.5,272.2 L407.81,271.95 L408.13,271.72 L408.45,271.48 L408.77,271.26 L409.1,271.04 L409.43,270.82 L409.76,270.61 L410.09,270.41 L410.42,270.2 L410.75,270 L411.08,269.8 L411.4,269.6 L411.72,269.4 L412.04,269.21 L412.35,269.01 L412.67,268.83 L412.99,268.64 L413.3,268.46 L413.61,268.28 L413.93,268.1 L414.25,267.92 L414.56,267.74 L414.88,267.57 L415.2,267.4 L415.52,267.23 L415.85,267.06 L416.17,266.9 L416.5,266.73 L416.82,266.57 L417.15,266.41 L417.48,266.26 L417.8,266.1 L418.13,265.95 L418.45,265.8 L418.78,265.65 L419.1,265.5 L419.42,265.36 L419.74,265.21 L420.05,265.07 L420.37,264.94 L420.69,264.8 L421,264.67 L421.31,264.54 L421.63,264.41 L421.95,264.28 L422.26,264.15 L422.58,264.03 L422.9,263.9 L423.22,263.78 L423.55,263.65 L423.87,263.53 L424.2,263.41 L424.52,263.29 L424.85,263.17 L425.18,263.06 L425.5,262.94 L425.83,262.83 L426.15,262.72 L426.48,262.61 L426.8,262.5 L427.12,262.39 L427.44,262.28 L427.75,262.18 L428.07,262.07 L428.39,261.97 L428.7,261.87 L429.01,261.77 L429.33,261.67 L429.65,261.57 L429.96,261.48 L430.28,261.39 L430.6,261.3 L430.92,261.21 L431.24,261.13 L431.57,261.06 L431.89,260.98 L432.21,260.91 L432.54,260.84 L432.86,260.77 L433.19,260.7 L433.52,260.62 L433.84,260.55 L434.17,260.48 L434.5,260.4 L434.82,260.32 L435.12,260.24 L435.41,260.17 L435.69,260.09 L435.97,260.02 L436.26,259.94 L436.57,259.86 L436.89,259.77 L437.24,259.69 L437.62,259.6 L438.04,259.5 L438.5,259.4 L439.01,259.29 L439.57,259.18 L440.17,259.06 L440.8,258.93 L441.45,258.8 L442.12,258.67 L442.81,258.54 L443.5,258.4 L444.2,258.27 L444.88,258.14 L445.55,258.02 L446.2,257.9 L446.84,257.78 L447.47,257.67 L448.1,257.55 L448.74,257.44 L449.37,257.32 L450,257.21 L450.63,257.1 L451.26,257 L451.9,256.89 L452.53,256.79 L453.16,256.69 L453.8,256.6 L454.44,256.51 L455.08,256.42 L455.72,256.34 L456.36,256.26 L457,256.18 L457.64,256.11 L458.29,256.03 L458.93,255.96 L459.57,255.89 L460.22,255.83 L460.86,255.76 L461.5,255.7 L462.15,255.64 L462.82,255.58 L463.49,255.52 L464.17,255.46 L464.86,255.41 L465.53,255.36 L466.2,255.31 L466.85,255.26 L467.48,255.21 L468.08,255.17 L468.66,255.14 L469.2,255.1 L469.72,255.07 L470.22,255.04 L470.72,255.02 L471.19,255 L471.65,254.98 L472.08,254.96 L472.49,254.95 L472.86,254.94 L473.21,254.93 L473.51,254.92 L473.78,254.91 L474,254.9" fill="none" stroke="#000" stroke-width="1.7" stroke-linejoin="round" stroke-linecap="round"/>
<ellipse cx="327.5" cy="360.6" rx="4.05" ry="4.4" fill="#000"/>
<ellipse cx="329.8" cy="361.3" rx="4.05" ry="4.4" fill="#000"/>
<ellipse cx="332.8" cy="361.6" rx="4.05" ry="4.4" fill="#000"/>
<ellipse cx="336.5" cy="360.6" rx="4.05" ry="4.4" fill="#000"/>
<ellipse cx="346.2" cy="351.9" rx="4.05" ry="4.4" fill="#000"/>
<ellipse cx="364.2" cy="332.4" rx="4.05" ry="4.4" fill="#000"/>
<ellipse cx="400.2" cy="281" rx="4.05" ry="4.4" fill="#000"/>
<ellipse cx="474.15" cy="254.35" rx="4.05" ry="4.4" fill="#000"/>
</svg>
</body></html>
